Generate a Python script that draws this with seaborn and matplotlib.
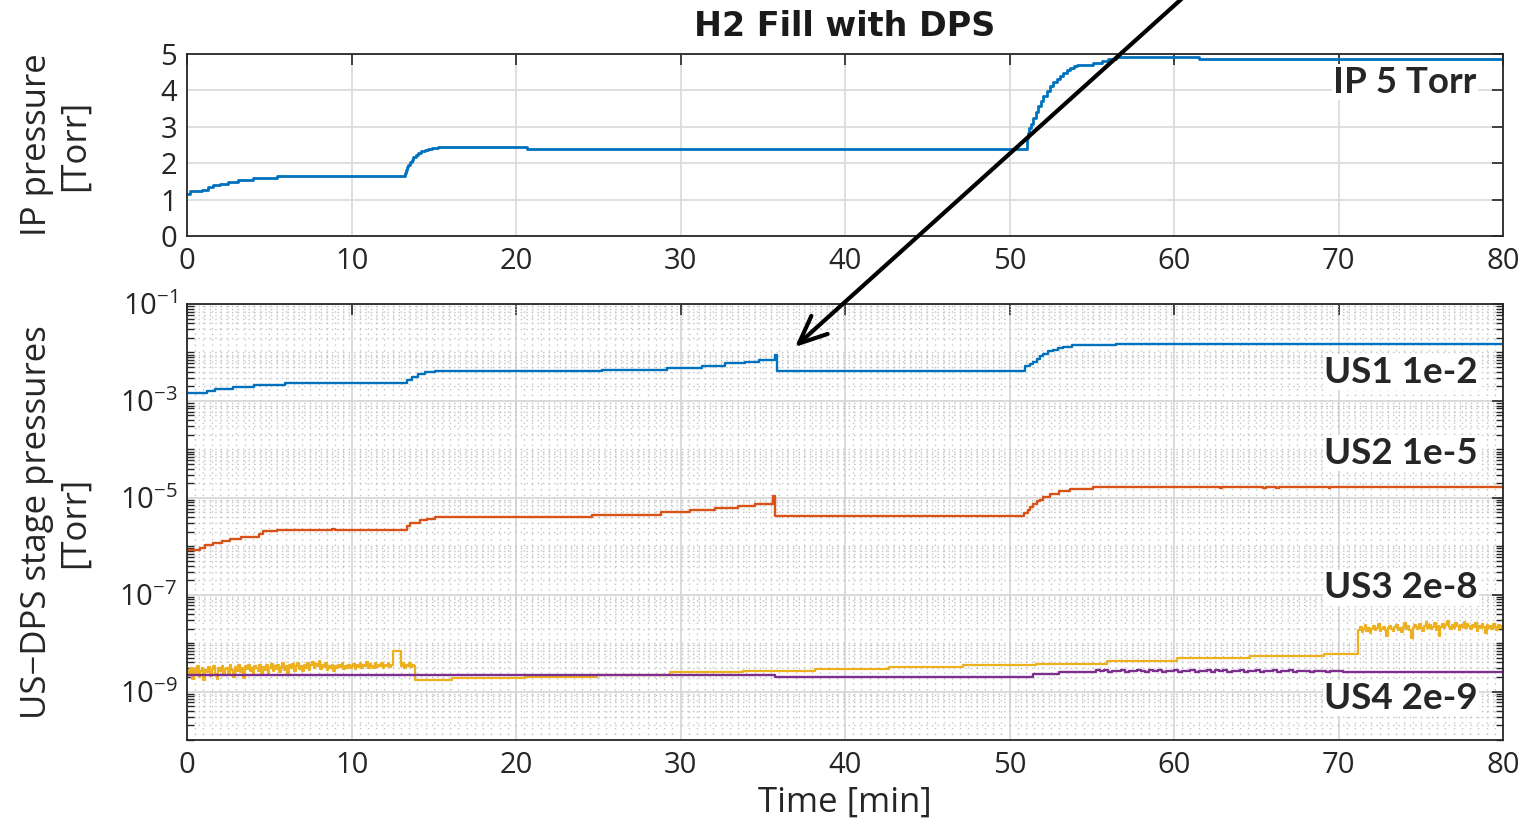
import numpy as np
import matplotlib
matplotlib.use("Agg")
import matplotlib.pyplot as plt
import seaborn as sns
from matplotlib.ticker import FixedLocator, FuncFormatter, MultipleLocator, NullFormatter

# ---------------- data ----------------
# IP pressure [Torr] (time of change, value from then on)
ip_t = [0.0, 0.18, 0.89, 1.3, 1.6, 2.0, 2.5, 3.1, 4.0, 5.45,
        13.25, 13.3, 13.35, 13.45, 13.56, 13.66, 13.76, 13.9, 14.06, 14.25, 14.47, 14.67, 14.87,
        15.08, 15.28, 20.65,
        51.05, 51.12, 51.2, 51.3, 51.45, 51.6, 51.76, 51.9, 52.06, 52.25, 52.46, 52.65, 52.87,
        53.05, 53.27, 53.48, 53.68, 53.9, 54.08, 55.1, 55.6, 56.0, 56.5, 61.5, 80.0]
ip_p = [1.15, 1.23, 1.27, 1.34, 1.39, 1.43, 1.48, 1.53, 1.58, 1.64,
        1.73, 1.80, 1.89, 1.96, 2.03, 2.09, 2.16, 2.22, 2.28, 2.33, 2.37, 2.40, 2.42,
        2.43, 2.44, 2.39,
        2.70, 2.83, 2.97, 3.08, 3.25, 3.42, 3.57, 3.71, 3.84, 3.98, 4.12, 4.22, 4.30,
        4.40, 4.48, 4.56, 4.62, 4.67, 4.70, 4.75, 4.81, 4.87, 4.92, 4.85, 4.85]

# US1 stage pressure [Torr]
us1_t = [0.0, 1.2, 1.7, 2.8, 4.1, 5.96, 13.35, 13.66, 14.06, 14.47, 15.08, 25.2, 29.2, 31.3, 32.7,
         33.9, 34.8, 35.75, 35.85, 50.95, 51.25, 51.45, 51.65, 51.85, 52.06, 52.35, 52.67, 52.95,
         53.27, 53.78, 56.5, 80.0]
us1_p = [1.45e-3, 1.62e-3, 1.74e-3, 1.90e-3, 2.09e-3, 2.29e-3, 2.69e-3, 3.16e-3, 3.63e-3, 3.90e-3,
         4.07e-3, 4.37e-3, 4.68e-3, 5.25e-3, 6.03e-3, 6.46e-3, 7.08e-3, 8.9e-3, 4.07e-3, 5.13e-3,
         5.8e-3, 6.46e-3, 7.3e-3, 8.3e-3, 9.3e-3, 1.05e-2, 1.15e-2, 1.23e-2, 1.32e-2, 1.40e-2,
         1.48e-2, 1.48e-2]

# US2 stage pressure [Torr]
us2_t = [0.0, 0.79, 1.1, 1.6, 2.1, 2.6, 3.3, 4.4, 4.6, 5.45, 8.8, 9.0, 13.35, 13.56, 14.16, 14.57,
         15.08, 24.6, 28.8, 30.6, 32.1, 33.5, 34.5, 35.6, 35.75, 50.9, 51.1, 51.25, 51.45, 51.65,
         51.85, 52.06, 52.47, 52.98, 53.68, 55.1, 62.8, 62.9, 65.4, 65.6, 66.2, 66.4, 69.4, 69.5,
         80.0]
us2_p = [8.5e-7, 9.3e-7, 1.05e-6, 1.17e-6, 1.29e-6, 1.41e-6, 1.55e-6, 1.82e-6, 2.04e-6, 2.19e-6,
         2.30e-6, 2.19e-6, 2.57e-6, 3.0e-6, 3.47e-6, 3.72e-6, 4.07e-6, 4.47e-6, 5.0e-6, 5.5e-6,
         6.03e-6, 6.76e-6, 7.41e-6, 1.07e-5, 4.17e-6, 4.9e-6, 5.5e-6, 6.5e-6, 7.59e-6, 8.4e-6,
         9.1e-6, 1.05e-5, 1.2e-5, 1.38e-5, 1.55e-5, 1.70e-5, 1.58e-5, 1.70e-5, 1.60e-5, 1.70e-5,
         1.60e-5, 1.70e-5, 1.62e-5, 1.70e-5, 1.70e-5]

# US3 stage pressure [nTorr]: noisy start (0.1 min samples), pulse, steps, noisy end
us3_noise_start = [2.6, 2.2, 3.0, 1.8, 2.9, 2.4, 3.3, 2.0, 2.7, 3.1, 1.7, 2.8, 2.5, 3.2, 2.1, 2.9, 3.4,
                   2.3, 1.8, 3.0, 2.6, 3.3, 2.2, 2.9, 3.1,
                   2.4, 3.5, 2.8, 2.0, 3.2, 2.7, 3.6, 2.5, 3.0, 1.9, 3.3, 2.9, 3.5, 2.6, 3.1, 2.2, 3.4,
                   3.0, 2.7, 3.6, 2.4, 3.2, 2.8, 3.5, 2.3,
                   3.1, 3.7, 2.6, 3.3, 2.9, 3.6, 2.5, 3.2, 3.8, 2.8, 3.4, 2.2, 3.5, 3.0, 3.7, 2.7, 3.3,
                   3.9, 2.9, 3.4, 2.6, 3.6, 3.1, 3.8, 2.8,
                   3.5, 4.1, 3.0, 3.7, 3.3, 4.2, 2.9, 3.6, 3.2, 3.9, 2.8, 3.4, 3.1, 3.6, 2.7, 3.3, 3.0,
                   3.5, 3.2, 3.8, 2.9, 3.4, 3.1, 3.6, 3.0,
                   3.3, 3.7, 2.9, 3.5, 3.2, 3.9, 3.0, 3.6, 3.3, 4.0, 3.1, 3.7, 3.4, 3.0, 3.8, 3.2, 3.6,
                   3.4, 3.9, 3.1, 3.5, 3.3, 3.8, 3.2, 3.6]
us3_pulse_t = [12.5]
us3_pulse_p = [7.0]
us3_noise_mid = [3.4, 3.9, 3.1, 3.6, 3.3, 3.8, 3.2, 3.5, 3.3]
us3_step_t = [13.85, 16.1, 20.55, 24.9, 29.35, 33.8, 38.2, 42.7, 47.15, 51.6, 55.9, 60.2, 64.6, 69.1]
us3_step_p = [1.74, 1.86, 2.04, 2.24, 2.51, 2.69, 2.95, 3.24, 3.55, 3.75, 4.37, 4.90, 5.37, 5.89]
us3_noise_end = [19, 22, 17, 20, 24, 18, 21, 16, 20, 23,
                 19, 21, 25, 18, 20, 22, 19, 14, 21, 23,
                 20, 18, 22, 24, 19, 21, 17, 22, 26, 20,
                 23, 19, 13, 21, 24, 22, 20, 25, 21, 18,
                 23, 27, 21, 24, 20, 22, 26, 19, 23, 14,
                 22, 25, 21, 24, 28, 22, 20, 24, 21, 26,
                 23, 19, 24, 22, 27, 21, 25, 23, 20, 24,
                 22, 26, 18, 23, 21, 25, 22, 16, 24, 21,
                 23, 20, 25, 22, 19, 24, 21, 23, 20]

# US4 stage pressure [nTorr]
us4_step_t = [0.0, 35.75, 51.4, 53.0]
us4_step_p = [2.24, 2.04, 2.29, 2.57]
us4_noise = [2.57, 2.75, 2.6, 2.8, 2.57, 2.7, 2.62, 2.78, 2.57, 2.72, 2.6, 2.8, 2.65, 2.57, 2.74,
             2.6, 2.78, 2.57, 2.7, 2.63, 2.8, 2.58, 2.72, 2.6, 2.76, 2.57, 2.7, 2.62, 2.79, 2.58,
             2.73, 2.6, 2.77, 2.57, 2.7, 2.64, 2.8, 2.58, 2.72, 2.6, 2.75, 2.57, 2.69, 2.62, 2.78,
             2.58, 2.7, 2.6, 2.74, 2.57, 2.66, 2.6, 2.72, 2.57, 2.65, 2.6, 2.7, 2.57, 2.63, 2.6]
us4_end_t = [70.25, 80.0]
us4_end_p = [2.57, 2.57]

labels_bottom = ["US1 1e-2", "US2 1e-5", "US3 2e-8", "US4 2e-9"]
title = "H2 Fill with DPS"

# ---------------- assemble series ----------------
n1 = len(us3_noise_start)
n2 = len(us3_noise_mid)
n3 = len(us3_noise_end)
us3_t = (list(np.round(0.1 * np.arange(n1), 2)) + us3_pulse_t
         + list(np.round(13.0 + 0.1 * np.arange(n2), 2)) + us3_step_t
         + list(np.round(71.2 + 0.1 * np.arange(n3), 2)))
us3_p = (np.array(us3_noise_start + us3_pulse_p + us3_noise_mid + us3_step_p + us3_noise_end,
                  dtype=float) * 1e-9)

n4 = len(us4_noise)
us4_t = us4_step_t + list(np.round(55.0 + 0.25 * np.arange(n4), 2)) + us4_end_t
us4_p = np.array(us4_step_p + us4_noise + us4_end_p, dtype=float) * 1e-9

# ---------------- style ----------------
sns.set_style("white")
plt.rcParams["font.family"] = ["Open Sans", "DejaVu Sans"]
plt.rcParams["mathtext.default"] = "regular"

C_BLUE, C_ORANGE, C_YELLOW, C_PURPLE = "#0072BD", "#D95319", "#EDB120", "#7E2F8E"
SPINE = "#262626"

fig = plt.figure(figsize=(15.27, 8.22), dpi=100)
ax1 = fig.add_axes([187 / 1527, 1 - 236 / 822, 1316 / 1527, 182 / 822])
ax2 = fig.add_axes([187 / 1527, 1 - 740 / 822, 1316 / 1527, 436 / 822])

common = dict(estimator=None, sort=False, drawstyle="steps-post")
sns.lineplot(x=ip_t, y=ip_p, ax=ax1, color=C_BLUE, lw=2.0, **common)

ax2.set_yscale("log")
sns.lineplot(x=us1_t, y=us1_p, ax=ax2, color=C_BLUE, lw=1.7, **common)
sns.lineplot(x=us2_t, y=us2_p, ax=ax2, color=C_ORANGE, lw=1.7, **common)
sns.lineplot(x=us3_t, y=us3_p, ax=ax2, color=C_YELLOW, lw=1.6, **common)
sns.lineplot(x=us4_t, y=us4_p, ax=ax2, color=C_PURPLE, lw=1.7, **common)

# ---------------- axes formatting ----------------
for ax in (ax1, ax2):
    ax.set_xlim(0, 80)
    ax.set_xticks(range(0, 81, 10))
    for s in ax.spines.values():
        s.set_color(SPINE)
        s.set_linewidth(1.3)
        s.set_visible(True)
    ax.tick_params(which="major", direction="in", length=8, width=1.2, color=SPINE,
                   top=True, right=True, labelsize=21, labelcolor="#262626")
    ax.tick_params(axis="x", which="major", pad=8)
    ax.tick_params(axis="y", which="major", pad=7)
    ax.set_axisbelow(True)

ax1.set_ylim(0, 5)
ax1.set_yticks(range(0, 6))
ax1.grid(which="major", color="#d9d9d9", lw=1.2, ls="-")
ax1.set_ylabel("IP pressure\n[Torr]", fontsize=25, color="#262626", linespacing=1.15)
ax1.yaxis.set_label_coords(-0.072, 0.5)

ax2.set_ylim(1e-10, 1e-1)
ax2.yaxis.set_major_locator(FixedLocator([1e-9, 1e-7, 1e-5, 1e-3, 1e-1]))
minor_vals = [m * 10.0 ** k for k in range(-10, -1) for m in range(1, 10)
              if not (m == 1 and k in (-9, -7, -5, -3, -1))]
ax2.yaxis.set_minor_locator(FixedLocator(minor_vals))
ax2.yaxis.set_minor_formatter(NullFormatter())
ax2.yaxis.set_major_formatter(FuncFormatter(lambda v, _: r"$10^{%d}$" % round(np.log10(v))))
ax2.xaxis.set_minor_locator(MultipleLocator(0.5))
ax2.tick_params(axis="x", which="minor", length=0)
ax2.tick_params(axis="y", which="minor", direction="in", length=5, width=1.0, color=SPINE,
                left=True, right=True)
ax2.grid(which="major", color="#d4d4d4", lw=1.2, ls="-")
ax2.grid(which="minor", color="#c2c2c2", lw=1.0, ls=(0, (1, 3)))
ax2.set_ylabel("US\u2212DPS stage pressures\n[Torr]", fontsize=25, color="#262626",
               linespacing=1.15)
ax2.yaxis.set_label_coords(-0.072, 0.5)
ax2.set_xlabel("Time [min]", fontsize=25, color="#262626")
ax2.xaxis.set_label_coords(0.5, -0.105)

# ---------------- texts ----------------
fig.text(845 / 1527, 1 - 27 / 822, title, ha="center", va="center", fontsize=24,
         fontweight="bold", family=["DejaVu Sans"], color="#1a1a1a")

bbox = dict(facecolor="white", edgecolor="none", pad=1.0)
ax1.text(0.980, 0.846, "IP 5 Torr", transform=ax1.transAxes, ha="right", va="center",
         fontsize=26.5, fontweight="bold", family=["Lato", "DejaVu Sans"], bbox=bbox)
for lab, yy in zip(labels_bottom, [0.844, 0.658, 0.349, 0.096]):
    ax2.text(0.981, yy, lab, transform=ax2.transAxes, ha="right", va="center",
             fontsize=26.5, fontweight="bold", family=["Lato", "DejaVu Sans"], bbox=bbox)

# arrow pointing at the US1/US2 drop
ax2.annotate("", xy=(795 / 1527, 1 - 347 / 822), xycoords="figure fraction",
             xytext=(1187 / 1527, 1 + 6 / 822), textcoords="figure fraction",
             arrowprops=dict(arrowstyle="->,head_length=0.8,head_width=0.35",
                             lw=3.0, color="black", mutation_scale=25,
                             shrinkA=0, shrinkB=0),
             annotation_clip=False)

fig.savefig("out.png", dpi=100)
